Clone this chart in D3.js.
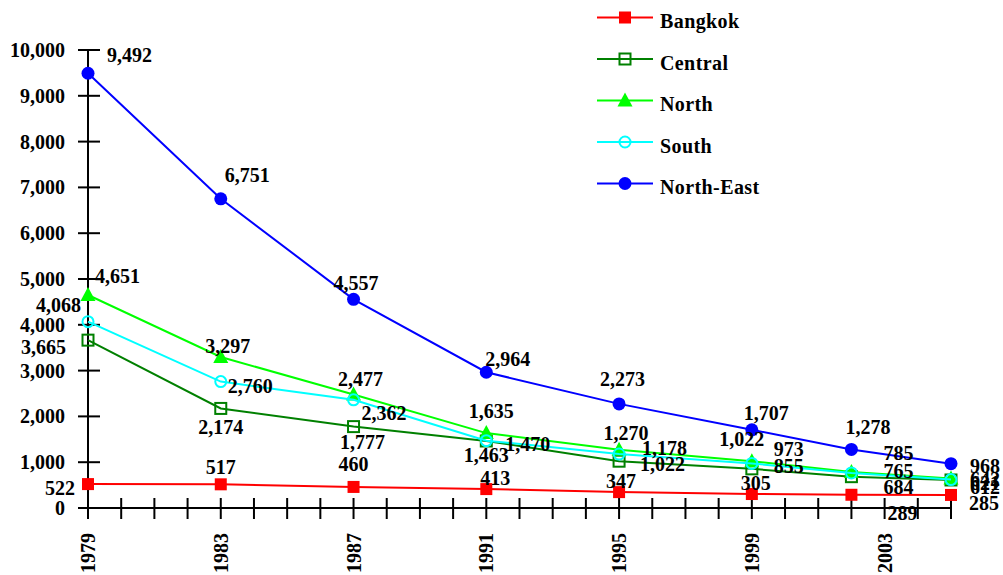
<!DOCTYPE html>
<html>
<head>
<meta charset="utf-8">
<script src="https://cdn.jsdelivr.net/npm/d3@7"></script>
<style>
  html, body { margin: 0; padding: 0; background: #fff; }
  svg { display: block; font-family: "Liberation Serif", "Times New Roman", serif; font-weight: bold; }
</style>
</head>
<body>
<svg id="chart" width="1003" height="575"></svg>
<script>
// Survey years and values per region
const years = [1979, 1983, 1987, 1991, 1995, 1999, 2002, 2005];
const bangkok   = [522, 517, 460, 413, 347, 305, 289, 285];
const central   = [3665, 2174, 1777, 1463, 1022, 855, 684, 612];
const north     = [4651, 3297, 2477, 1635, 1270, 1022, 785, 642];
const south     = [4068, 2760, 2362, 1470, 1178, 973, 765, 621];
const northEast = [9492, 6751, 4557, 2964, 2273, 1707, 1278, 968];

const yTickValues = [0, 1000, 2000, 3000, 4000, 5000, 6000, 7000, 8000, 9000, 10000];
const yearTickLabels = [1979, 1983, 1987, 1991, 1995, 1999, 2003];

// Label nudges per point: [dx, dy, anchor] relative to the marker
const labelNudge = {
  "Bangkok":    [[-13, 11, "end"], [0, -10, "middle"], [0, -16, "middle"], [9, -4, "middle"], [2, -4, "middle"], [4, -4, "middle"], [51, 25, "middle"], [18, 15, "start"]],
  "Central":    [[-22, 14, "end"], [0, 26, "middle"], [9, 22, "middle"], [0, 21, "middle"], [21, 10, "start"], [22, 4, "start"], [32, 17, "start"], [19, 14, "start"]],
  "North":      [[7, -12, "start"], [7, -4, "middle"], [7, -9, "middle"], [5, -15, "middle"], [7, -10, "middle"], [-10, -15, "middle"], [32, -12, "start"], [19, 7, "start"]],
  "South":      [[-7, -10, "end"], [7, 11, "start"], [8, 20, "start"], [19, 10, "start"], [23, 1, "start"], [22, -7, "start"], [32, 5, "start"], [19, 10, "start"]],
  "North-East": [[19, -11, "start"], [4, -17, "start"], [-20, -9, "start"], [-1, -6, "start"], [-19, -18, "start"], [-8, -10, "start"], [-6, -15, "start"], [19, 9, "start"]]
};

const series = [
  { name: "Bangkok",    values: bangkok,   color: "#ff0000", marker: "square",  filled: true },
  { name: "Central",    values: central,   color: "#008000", marker: "square",  filled: false },
  { name: "North",      values: north,     color: "#00ff00", marker: "triangle", filled: true },
  { name: "South",      values: south,     color: "#00ffff", marker: "circle",  filled: false },
  { name: "North-East", values: northEast, color: "#0000ff", marker: "circle",  filled: true }
];

const svg = d3.select("#chart");
const fmt = d3.format(",");

const x = d3.scaleLinear().domain([1979, 2005]).range([88, 951]);
const y = d3.scaleLinear().domain([0, 10000]).range([508, 50]);

// ---- Y axis: crossing ticks, bold labels on the left
const yAxisG = svg.append("g");
yAxisG.append("line")
  .attr("x1", x(1979)).attr("x2", x(1979))
  .attr("y1", y(10000)).attr("y2", y(0) + 11)
  .attr("stroke", "#000").attr("stroke-width", 2);
yAxisG.selectAll("line.tick").data(yTickValues).join("line")
  .attr("class", "tick")
  .attr("x1", x(1979) - 10).attr("x2", x(1979) + 12)
  .attr("y1", d => y(d)).attr("y2", d => y(d))
  .attr("stroke", "#000").attr("stroke-width", 2);
yAxisG.selectAll("text").data(yTickValues).join("text")
  .attr("x", x(1979) - 23)
  .attr("y", d => y(d))
  .attr("dy", "0.35em")
  .attr("text-anchor", "end")
  .attr("font-size", 20)
  .text(d => fmt(d));

// ---- X axis: a tick every year, labels every four years
const xAxisG = svg.append("g");
xAxisG.append("line")
  .attr("x1", x(1979) - 10).attr("x2", x(2005))
  .attr("y1", y(0)).attr("y2", y(0))
  .attr("stroke", "#000").attr("stroke-width", 2);
xAxisG.selectAll("line.tick").data(d3.range(1980, 2006)).join("line")
  .attr("class", "tick")
  .attr("x1", d => x(d)).attr("x2", d => x(d))
  .attr("y1", y(0) - 10).attr("y2", y(0) + 11)
  .attr("stroke", "#000").attr("stroke-width", 2);
xAxisG.selectAll("text").data(yearTickLabels).join("text")
  .attr("transform", d => `translate(${x(d)},${y(0) + 25}) rotate(-90)`)
  .attr("text-anchor", "end")
  .attr("dy", "0.35em")
  .attr("font-size", 20)
  .text(d => d);

// ---- Markers
function drawMarker(g, s, cx, cy) {
  const fill = s.filled ? s.color : "none";
  if (s.marker === "square") {
    const size = s.filled ? 12 : 11;
    g.append("rect")
      .attr("x", cx - size / 2).attr("y", cy - size / 2)
      .attr("width", size).attr("height", size)
      .attr("fill", fill).attr("stroke", s.color).attr("stroke-width", s.filled ? 0 : 2);
  } else if (s.marker === "triangle") {
    g.append("path")
      .attr("d", `M${cx},${cy - 8}L${cx + 7.5},${cy + 6}L${cx - 7.5},${cy + 6}Z`)
      .attr("fill", fill);
  } else {
    g.append("circle")
      .attr("cx", cx).attr("cy", cy)
      .attr("r", s.filled ? 6.5 : 5.5)
      .attr("fill", fill).attr("stroke", s.color).attr("stroke-width", s.filled ? 0 : 2);
  }
}

// ---- Lines and markers per region
const line = d3.line().x(d => x(d[0])).y(d => y(d[1]));
series.forEach(s => {
  const pts = years.map((yr, i) => [yr, s.values[i]]);
  const g = svg.append("g");
  g.append("path")
    .attr("d", line(pts))
    .attr("fill", "none")
    .attr("stroke", s.color)
    .attr("stroke-width", 2);
  pts.forEach(p => drawMarker(g, s, x(p[0]), y(p[1])));
});

// ---- Value labels
series.forEach(s => {
  const g = svg.append("g");
  years.forEach((yr, i) => {
    const [dx, dy, anchor] = labelNudge[s.name][i];
    g.append("text")
      .attr("x", x(yr) + dx)
      .attr("y", y(s.values[i]) + dy)
      .attr("text-anchor", anchor)
      .attr("font-size", 20)
      .attr("fill", "#000")
      .text(fmt(s.values[i]));
  });
});

// ---- Legend
const legend = svg.append("g");
series.forEach((s, i) => {
  const ly = 17.5 + i * 41.5;
  const row = legend.append("g");
  row.append("line")
    .attr("x1", 597).attr("x2", 653)
    .attr("y1", ly).attr("y2", ly)
    .attr("stroke", s.color).attr("stroke-width", 2);
  drawMarker(row, s, 625, ly);
  row.append("text")
    .attr("x", 660).attr("y", ly + 10.5)
    .attr("font-size", 20)
    .attr("letter-spacing", 0.4)
    .text(s.name);
});
</script>
</body>
</html>
